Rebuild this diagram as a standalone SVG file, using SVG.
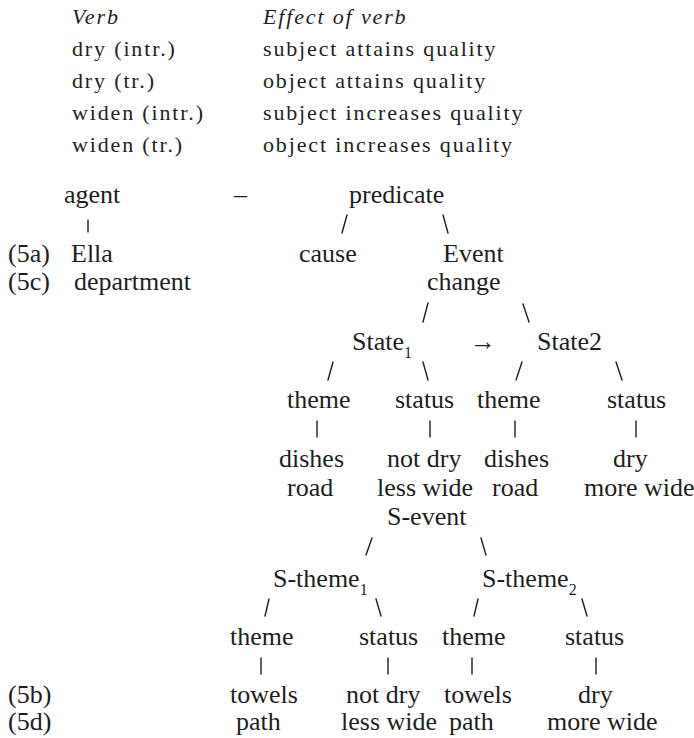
<svg xmlns="http://www.w3.org/2000/svg" width="694" height="738" viewBox="0 0 694 738" font-family="'Liberation Serif', 'Times New Roman', 'DejaVu Serif', serif">
<style>
text{font-family:'Liberation Serif','Times New Roman','DejaVu Serif',serif;fill:#1e1e1e}
.tb{font-size:22px;letter-spacing:1.85px}
.it{font-style:italic}
.t{font-size:26px}
.sub{font-size:16px}
.c line{stroke:#1e1e1e;stroke-width:1.4;stroke-linecap:round}
</style>
<rect width="694" height="738" fill="#ffffff"/>
<g id="table">
<text class="tb it" x="72" y="24">Verb</text>
<text class="tb it" x="263" y="24">Effect of verb</text>
<text class="tb" x="72" y="56">dry (intr.)</text>
<text class="tb" x="263" y="56">subject attains quality</text>
<text class="tb" x="72" y="88">dry (tr.)</text>
<text class="tb" x="263" y="88">object attains quality</text>
<text class="tb" x="72" y="120">widen (intr.)</text>
<text class="tb" x="263" y="120">subject increases quality</text>
<text class="tb" x="72" y="152">widen (tr.)</text>
<text class="tb" x="263" y="152">object increases quality</text>
</g>
<g id="labels">
<text class="t" x="8" y="262">(5a)</text>
<text class="t" x="8" y="290">(5c)</text>
<text class="t" x="8" y="703">(5b)</text>
<text class="t" x="8" y="730">(5d)</text>
</g>
<g id="agent"><text class="t" x="64" y="203">agent</text></g>
<g id="dash"><text class="t" x="234" y="203">–</text></g>
<g id="agent-fillers">
<text class="t" x="71" y="262">Ella</text>
<text class="t" x="74" y="290">department</text>
</g>
<g id="predicate"><text class="t" x="349" y="203">predicate</text></g>
<g id="cause"><text class="t" x="299" y="262">cause</text></g>
<g id="event"><text class="t" x="443" y="262">Event</text><text class="t" x="427" y="290">change</text></g>
<g id="state1"><text class="t" x="352" y="350">State<tspan class="sub" dy="8">1</tspan></text></g>
<g id="arrow"><text class="t" x="470" y="350">→</text></g>
<g id="state2"><text class="t" x="537" y="350">State2</text></g>
<g id="theme1"><text class="t" x="287" y="408">theme</text><text class="t" x="279" y="467">dishes</text><text class="t" x="287" y="496">road</text></g>
<g id="status1"><text class="t" x="395" y="408">status</text><text class="t" x="387" y="467">not dry</text><text class="t" x="377" y="496">less wide</text></g>
<g id="theme2"><text class="t" x="477" y="408">theme</text><text class="t" x="484" y="467">dishes</text><text class="t" x="492" y="496">road</text></g>
<g id="status2"><text class="t" x="607" y="408">status</text><text class="t" x="613" y="467">dry</text><text class="t" x="584" y="496">more wide</text></g>
<g id="sevent"><text class="t" x="387" y="525">S-event</text></g>
<g id="stheme1"><text class="t" x="273" y="587">S-theme<tspan class="sub" dy="8">1</tspan></text></g>
<g id="stheme2"><text class="t" x="482" y="587">S-theme<tspan class="sub" dy="8">2</tspan></text></g>
<g id="theme3"><text class="t" x="230" y="645">theme</text><text class="t" x="230" y="703">towels</text><text class="t" x="236" y="730">path</text></g>
<g id="status3"><text class="t" x="359" y="645">status</text><text class="t" x="346" y="703">not dry</text><text class="t" x="341" y="730">less wide</text></g>
<g id="theme4"><text class="t" x="442" y="645">theme</text><text class="t" x="444" y="703">towels</text><text class="t" x="449" y="730">path</text></g>
<g id="status4"><text class="t" x="565" y="645">status</text><text class="t" x="578" y="703">dry</text><text class="t" x="547" y="730">more wide</text></g>
<g id="connectors" class="c">
<line x1="88" y1="220" x2="88" y2="232"/>
<line x1="347" y1="215" x2="342" y2="233"/>
<line x1="443" y1="215" x2="448" y2="233"/>
<line x1="428" y1="303" x2="423" y2="322"/>
<line x1="523" y1="304" x2="529" y2="322"/>
<line x1="333" y1="362" x2="328" y2="380"/>
<line x1="423" y1="362" x2="428" y2="380"/>
<line x1="522" y1="362" x2="516" y2="380"/>
<line x1="616" y1="362" x2="622" y2="380"/>
<line x1="317" y1="421" x2="317" y2="437"/>
<line x1="430" y1="421" x2="430" y2="437"/>
<line x1="515" y1="421" x2="515" y2="437"/>
<line x1="636" y1="421" x2="636" y2="437"/>
<line x1="372" y1="538" x2="366" y2="555"/>
<line x1="481" y1="538" x2="486" y2="555"/>
<line x1="269" y1="599" x2="265" y2="616"/>
<line x1="376" y1="599" x2="381" y2="616"/>
<line x1="478" y1="599" x2="474" y2="616"/>
<line x1="582" y1="599" x2="587" y2="616"/>
<line x1="261" y1="658" x2="261" y2="674"/>
<line x1="388" y1="658" x2="388" y2="674"/>
<line x1="472" y1="658" x2="472" y2="674"/>
<line x1="596" y1="658" x2="596" y2="674"/>
</g>
</svg>
